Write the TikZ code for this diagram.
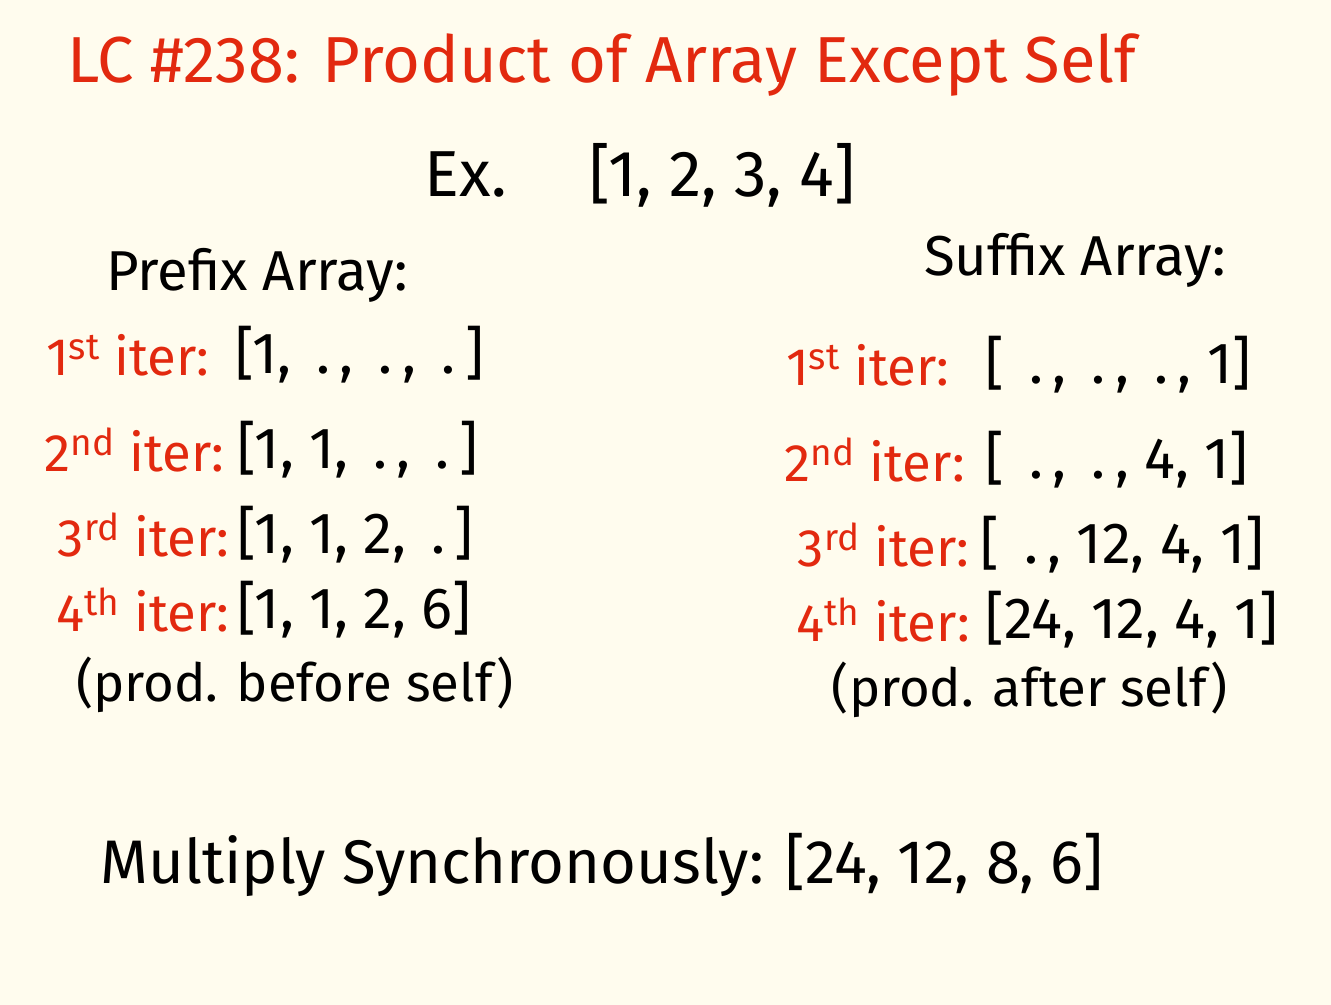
\documentclass[tikz,border=0pt]{standalone}
\usepackage{fontspec}
\setmainfont{Fira Sans}
\usetikzlibrary{positioning}

\definecolor{paper}{HTML}{FFFCEE}
\definecolor{inkred}{HTML}{E2290F}

\begin{document}
\begin{tikzpicture}[
    title/.style={
        text=inkred, font=\fontsize{37}{44}\selectfont, inner sep=0pt
    },
    heading/.style={
        text=black, font=\fontsize{32}{38}\selectfont, inner sep=0pt
    },
    iterlabel/.style={
        text=inkred, font=\fontsize{30}{36}\selectfont, inner sep=0pt, anchor=east
    },
    arraytext/.style={
        text=black, font=\fontsize{33}{40}\selectfont, inner sep=0pt
    },
    note/.style={
        text=black, font=\fontsize{30}{36}\selectfont, inner sep=0pt
    }
]
    % --- PAGE ---
    \fill [paper] (0,0) rectangle (26.62,-20.1);
    \useasboundingbox (0,0) rectangle (26.62,-20.1);

    % --- TITLE & EXAMPLE ---
    \node [title] (title) at (12.04,-1.3) {LC \#238: Product of Array Except Self};
    \node [heading, font=\fontsize{37}{44}\selectfont] (example) at (12.8,-3.5) {Ex.\quad\ [1, 2, 3, 4]};

    % --- PREFIX SIDE ---
    \node [heading] (pre_head) at (5.14,-5.5) {Prefix Array:};
    \node [iterlabel] (pre_l1) at (4.2,-7.1) {1\textsuperscript{st} iter:};
    \node [arraytext, right=0.5cm of pre_l1] (pre_a1) {[1, \,.\,, \,.\,, \,.\,]};
    \node [iterlabel] (pre_l2) at (4.5,-9.0) {2\textsuperscript{nd} iter:};
    \node [arraytext, right=0.25cm of pre_l2] (pre_a2) {[1, 1, \,.\,, \,.\,]};
    \node [iterlabel] (pre_l3) at (4.6,-10.7) {3\textsuperscript{rd} iter:};
    \node [arraytext, right=0.15cm of pre_l3] (pre_a3) {[1, 1, 2, \,.\,]};
    \node [iterlabel] (pre_l4) at (4.6,-12.2) {4\textsuperscript{th} iter:};
    \node [arraytext, right=0.15cm of pre_l4] (pre_a4) {[1, 1, 2, 6]};
    \node [note] (pre_note) at (5.9,-13.7) {(prod. before self)};

    % --- SUFFIX SIDE ---
    \node [heading] (suf_head) at (21.5,-5.2) {Suffix Array:};
    \node [iterlabel] (suf_l1) at (19.0,-7.3) {1\textsuperscript{st} iter:};
    \node [arraytext, right=0.7cm of suf_l1] (suf_a1) {[ \,.\,, \,.\,, \,.\,, 1]};
    \node [iterlabel] (suf_l2) at (19.3,-9.2) {2\textsuperscript{nd} iter:};
    \node [arraytext, right=0.4cm of suf_l2] (suf_a2) {[ \,.\,, \,.\,, 4, 1]};
    \node [iterlabel] (suf_l3) at (19.4,-10.9) {3\textsuperscript{rd} iter:};
    \node [arraytext, right=0.2cm of suf_l3] (suf_a3) {[ \,.\,, 12, 4, 1]};
    \node [iterlabel] (suf_l4) at (19.4,-12.4) {4\textsuperscript{th} iter:};
    \node [arraytext, right=0.3cm of suf_l4] (suf_a4) {[24, 12, 4, 1]};
    \node [note] (suf_note) at (20.6,-13.8) {(prod. after self)};

    % --- RESULT ---
    \node [heading, font=\fontsize{35}{42}\selectfont] (result) at (12.04,-17.3) {Multiply Synchronously: [24, 12, 8, 6]};

\end{tikzpicture}
\end{document}
